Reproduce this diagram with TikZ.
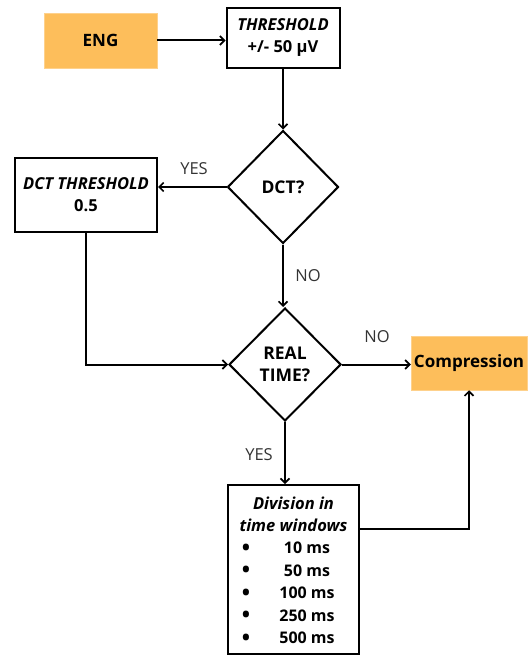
\documentclass[tikz,border=0pt]{standalone}
\usepackage{fontspec}
\setmainfont{Open Sans}
\usetikzlibrary{shapes.geometric,arrows.meta,calc}
\definecolor{boxorange}{HTML}{FDBE5B}
\definecolor{lblgray}{HTML}{333333}
\tikzset{
  arr/.style={line width=2pt,-{Straight Barb[length=4.5pt,width=9pt,line width=1.6pt]}},
  obox/.style={rectangle,fill=boxorange,draw=boxorange!70!white,line width=0.5pt,inner sep=0pt,font=\fontsize{17}{20}\selectfont\bfseries},
  wbox/.style={rectangle,draw=black,line width=2pt,inner sep=0pt,align=center,font=\fontsize{16.5}{22}\selectfont\bfseries},
  dia/.style={diamond,draw=black,line width=2pt,inner sep=0pt,align=center,font=\fontsize{17.5}{22}\selectfont\bfseries},
  lbl/.style={text=lblgray,font=\fontsize{16.5}{20}\selectfont},
  item/.style={font=\fontsize{16}{20}\selectfont\bfseries}
}
\begin{document}
\begin{tikzpicture}[x=1pt,y=-1pt]
\useasboundingbox (0,0) rectangle (528,655);
\node[obox,minimum width=113pt,minimum height=55pt] (eng) at (100.5,40.5) {ENG};
\node[wbox,minimum width=113pt,minimum height=60pt] (thr) at (283,38) {\textit{THRESHOLD}\\+/- 50 µV};
\node[dia,minimum width=111pt,minimum height=113pt] (dct) at (283,187) {DCT?};
\node[wbox,minimum width=142pt,minimum height=74pt] (dctb) at (86,195) {\textit{DCT THRESHOLD}\\0.5};
\node[dia,minimum width=112pt,minimum height=113pt] (rt) at (285,364.5) {REAL\\TIME?};
\node[obox,minimum width=116pt,minimum height=54pt] (comp) at (469,363) {Compression};
\node[wbox,minimum width=131pt,minimum height=169pt] (div) at (293.5,569.5) {};
\node[item,font=\fontsize{16.5}{20}\selectfont\bfseries\itshape] (d1) at (293.5,503) {Division in};
\node[item,font=\fontsize{16.5}{20}\selectfont\bfseries\itshape] (d2) at (293.5,525) {time windows};
\foreach \t/\yy [count=\i] in {10 ms/548,50 ms/570.5,100 ms/593,250 ms/615.5,500 ms/638}{
  \node[item] (it\i) at (307,\yy) {\t};
  \node[item,font=\fontsize{22}{20}\selectfont\bfseries] (b\i) at (246,\yy+1.5) {•};
}
% connectors
\draw[arr] (eng.east) -- (thr.west |- eng.east);
\draw[arr] (thr.south) -- (dct.north);
\draw[arr] (dct.west) -- (dct.west -| dctb.east);
\draw[arr] (dctb.south) -- (dctb.south |- rt.west) -- (rt.west);
\draw[arr] (dct.south) -- (dct.south |- rt.north);
\draw[arr] (rt.east) -- (comp.west |- rt.east);
\draw[arr] (rt.south) -- (rt.south |- div.north);
\coordinate (dout) at ($(div.north east)+(0,45)$);
\draw[arr] (dout) -- (dout -| comp.south) -- (comp.south);
% labels
\node[lbl] (yes1) at (194,169) {YES};
\node[lbl] (no1) at (308,276) {NO};
\node[lbl] (no2) at (377,337) {NO};
\node[lbl] (yes2) at (259,455) {YES};
\end{tikzpicture}
\end{document}
